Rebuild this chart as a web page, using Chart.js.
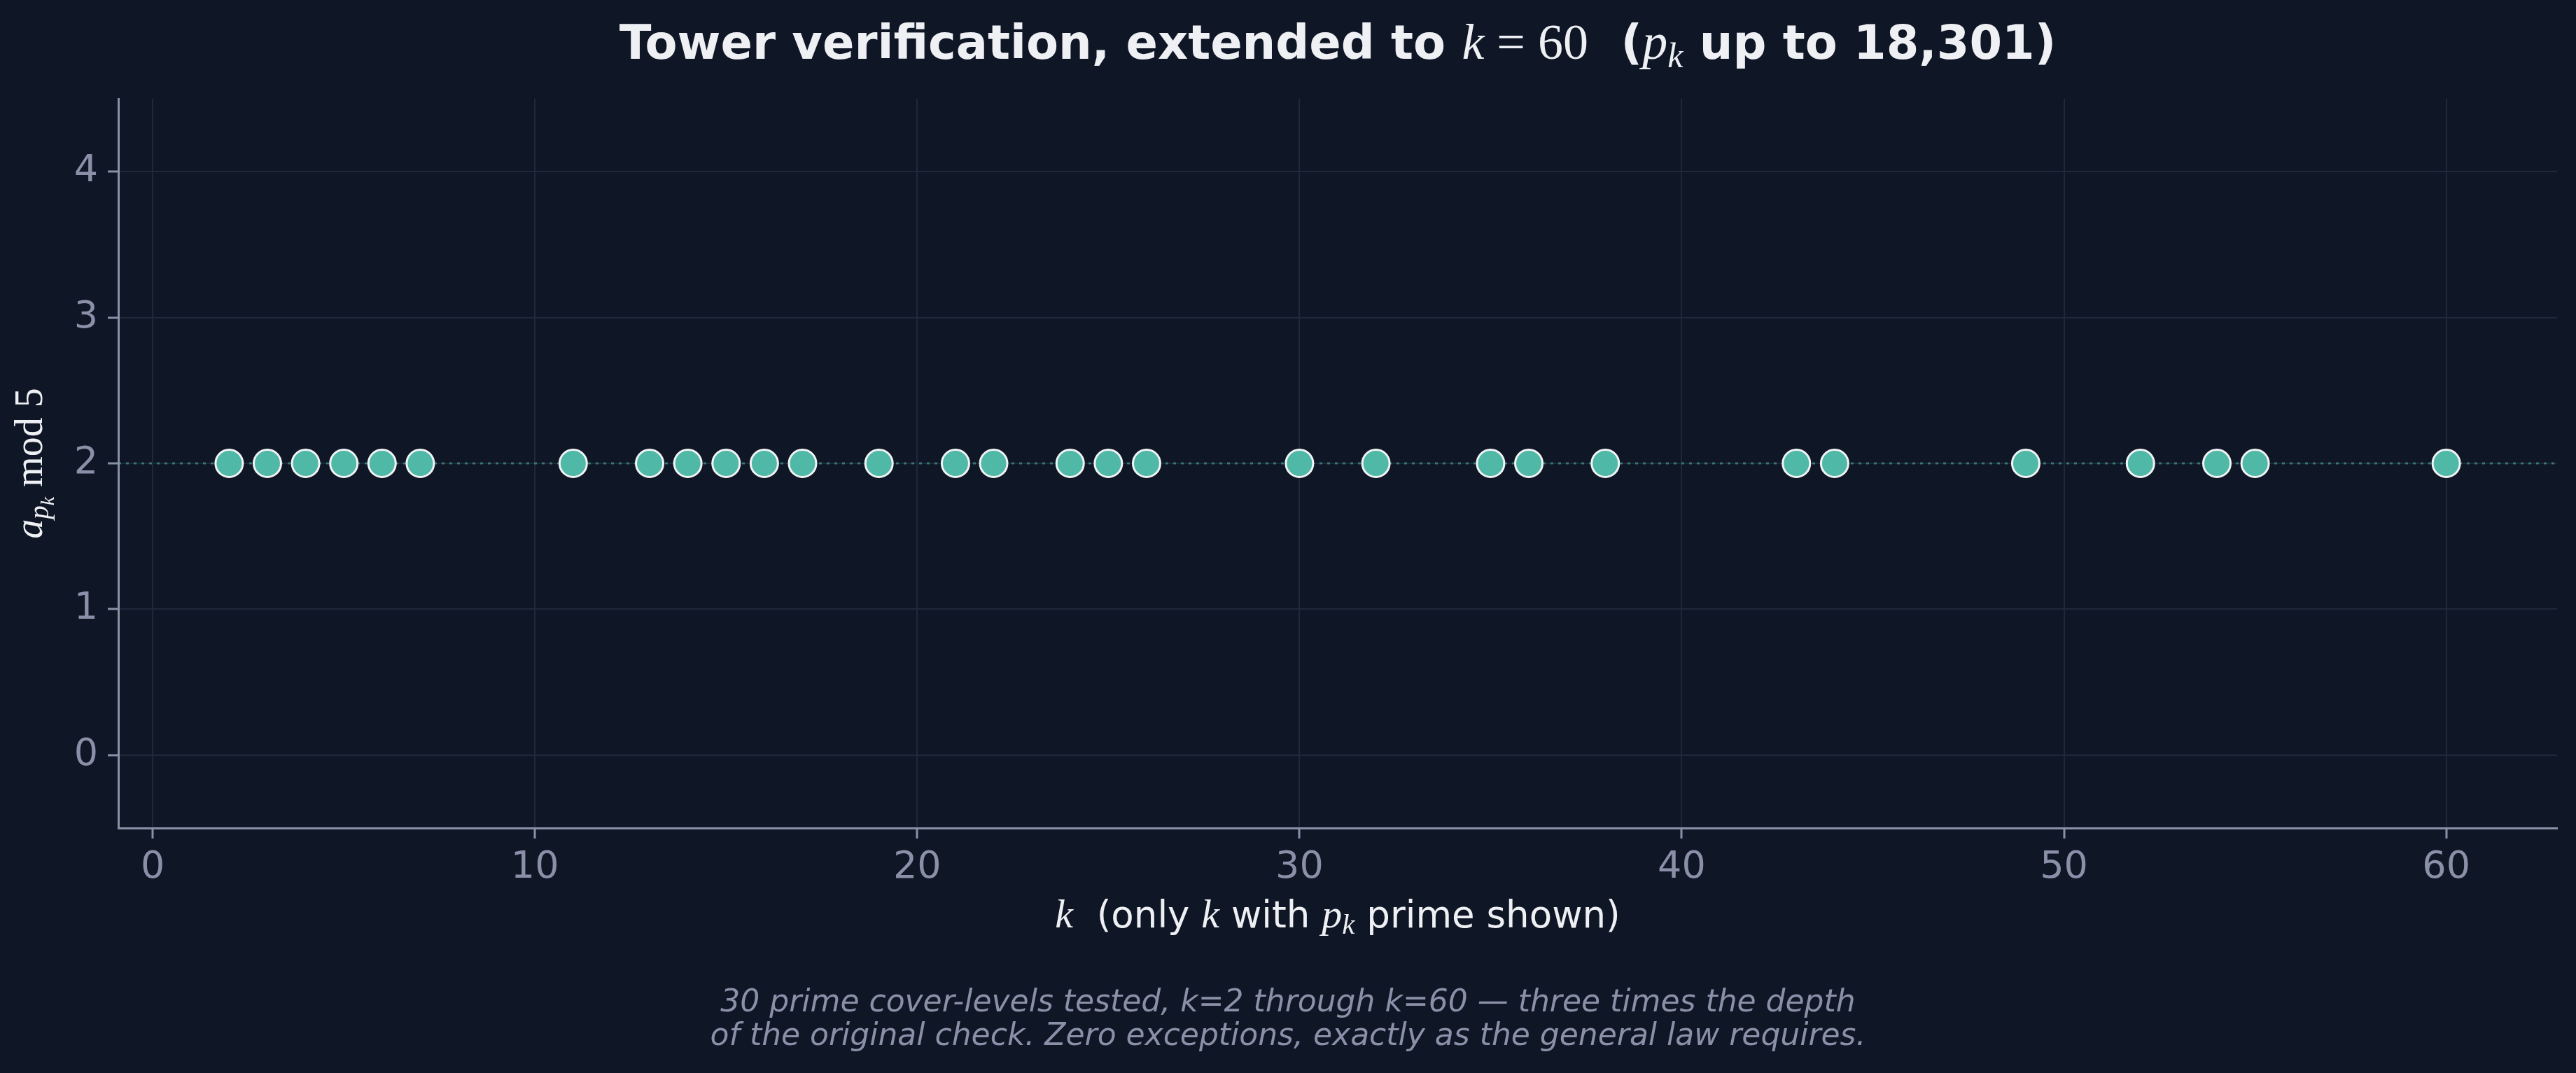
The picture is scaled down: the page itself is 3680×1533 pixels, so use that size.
<!DOCTYPE html>
<html>
<head>
<meta charset="utf-8">
<script src="https://cdn.jsdelivr.net/npm/chart.js@4.4.1/dist/chart.umd.min.js"></script>
<style>
  html, body { margin: 0; padding: 0; background: #0f1626; }
  canvas { display: block; }
</style>
</head>
<body>
<canvas id="myChart" width="3680" height="1533"></canvas>
<script>
// DATA
const kValues = [2, 3, 4, 5, 6, 7, 11, 13, 14, 15, 16, 17, 19, 21, 22, 24, 25, 26, 30, 32, 35, 36, 38, 43, 44, 49, 52, 54, 55, 60];
const residues = [2, 2, 2, 2, 2, 2, 2, 2, 2, 2, 2, 2, 2, 2, 2, 2, 2, 2, 2, 2, 2, 2, 2, 2, 2, 2, 2, 2, 2, 2];
const referenceLevel = 2;
const xTickValues = [0, 10, 20, 30, 40, 50, 60];
const yTickValues = [0, 1, 2, 3, 4];
const footnoteLines = [
  '30 prime cover-levels tested, k=2 through k=60 \u2014 three times the depth',
  'of the original check. Zero exceptions, exactly as the general law requires.'
];

const BG = '#0f1626';
const TICK = '#8b90a8';
const GRID = '#1e2939';
const TEAL = '#4fb8a6';
const WHITE = '#eef0f4';
const SANS = '"DejaVu Sans"';
const SERIF = '"Liberation Serif"';

// draws text made of pieces with different fonts (for the math bits)
function drawRich(ctx, parts, x, y, align) {
  let total = 0;
  parts.forEach(p => {
    ctx.font = p.font;
    p.w = ctx.measureText(p.text).width;
    total += p.w;
  });
  let cx = align === 'center' ? x - total / 2 : x;
  ctx.textAlign = 'left';
  ctx.textBaseline = 'alphabetic';
  parts.forEach(p => {
    ctx.font = p.font;
    ctx.fillStyle = p.color || WHITE;
    ctx.fillText(p.text, cx, y + (p.dy || 0));
    cx += p.w;
  });
}

const backgroundPlugin = {
  id: 'bg',
  beforeDraw(chart) {
    const c = chart.ctx;
    c.save();
    c.fillStyle = BG;
    c.fillRect(0, 0, chart.width, chart.height);
    c.restore();
  }
};

const referenceLinePlugin = {
  id: 'refLine',
  beforeDatasetsDraw(chart) {
    const c = chart.ctx;
    const area = chart.chartArea;
    const y = chart.scales.y.getPixelForValue(referenceLevel);
    c.save();
    c.strokeStyle = 'rgba(79, 184, 166, 0.55)';
    c.lineWidth = 3;
    c.setLineDash([4, 7]);
    c.beginPath();
    c.moveTo(area.left, y);
    c.lineTo(area.right, y);
    c.stroke();
    c.restore();
  }
};

const textPlugin = {
  id: 'texts',
  afterDraw(chart) {
    const c = chart.ctx;
    const area = chart.chartArea;
    const midX = (area.left + area.right) / 2;
    c.save();

    // TITLE
    const tb = 'bold 67px ' + SANS;
    const ti = 'italic 72px ' + SERIF;
    const tr = '72px ' + SERIF;
    const ts = 'italic 50px ' + SERIF;
    drawRich(c, [
      { text: 'Tower verification, extended to ', font: tb },
      { text: 'k', font: ti },
      { text: ' = ', font: tr },
      { text: '60', font: tr },
      { text: '  (', font: tb },
      { text: 'p', font: ti },
      { text: 'k', font: ts, dy: 12 },
      { text: ' up to 18,301)', font: tb }
    ], midX, 84, 'center');

    // X AXIS LABEL
    const xs = '53px ' + SANS;
    const xi = 'italic 58px ' + SERIF;
    const xsub = 'italic 41px ' + SERIF;
    drawRich(c, [
      { text: 'k', font: xi },
      { text: '  (only ', font: xs },
      { text: 'k', font: xi },
      { text: ' with ', font: xs },
      { text: 'p', font: xi },
      { text: 'k', font: xsub, dy: 9 },
      { text: ' prime shown)', font: xs }
    ], midX, 1325, 'center');

    // Y AXIS LABEL
    c.save();
    c.translate(60, (area.top + area.bottom) / 2);
    c.rotate(-Math.PI / 2);
    drawRich(c, [
      { text: 'a', font: 'italic 56px ' + SERIF },
      { text: 'p', font: 'italic 39px ' + SERIF, dy: 9 },
      { text: 'k', font: 'italic 28px ' + SERIF, dy: 17 },
      { text: ' mod 5', font: '56px ' + SERIF }
    ], 0, 0, 'center');
    c.restore();

    // FOOTNOTE
    c.font = 'italic 44px ' + SANS;
    c.fillStyle = TICK;
    c.textAlign = 'center';
    c.fillText(footnoteLines[0], chart.width / 2, 1445);
    c.fillText(footnoteLines[1], chart.width / 2, 1493);
    c.restore();
  }
};

const ctx = document.getElementById('myChart').getContext('2d');
const myChart = new Chart(ctx, {
  type: 'scatter',
  data: {
    datasets: [{
      label: 'a mod 5',
      data: kValues.map((k, i) => ({ x: k, y: residues[i] })),
      backgroundColor: TEAL,
      borderColor: '#f2f3f5',
      borderWidth: 3,
      pointRadius: 19.5,
      pointHoverRadius: 19.5
    }]
  },
  options: {
    responsive: false,
    animation: false,
    devicePixelRatio: 1,
    layout: { padding: { left: 0, top: 141, right: 27, bottom: 0 } },
    plugins: {
      legend: { display: false },
      tooltip: { enabled: false },
      title: { display: false }
    },
    scales: {
      x: {
        type: 'linear',
        min: -0.9,
        max: 62.9,
        afterBuildTicks: scale => { scale.ticks = xTickValues.map(v => ({ value: v })); },
        afterFit: scale => { scale.height = 350; },
        grid: { color: GRID, lineWidth: 2, tickColor: TICK, tickLength: 15, tickWidth: 3 },
        border: { color: TICK, width: 3 },
        ticks: { color: TICK, font: { family: 'DejaVu Sans', size: 54 }, padding: 10, maxRotation: 0 }
      },
      y: {
        type: 'linear',
        min: -0.5,
        max: 4.5,
        afterBuildTicks: scale => { scale.ticks = yTickValues.map(v => ({ value: v })); },
        afterFit: scale => { scale.width = 169; },
        grid: { color: GRID, lineWidth: 2, tickColor: TICK, tickLength: 15, tickWidth: 3 },
        border: { color: TICK, width: 3 },
        ticks: { color: TICK, font: { family: 'DejaVu Sans', size: 54 }, padding: 14 }
      }
    }
  },
  plugins: [backgroundPlugin, referenceLinePlugin, textPlugin]
});
</script>
</body>
</html>
